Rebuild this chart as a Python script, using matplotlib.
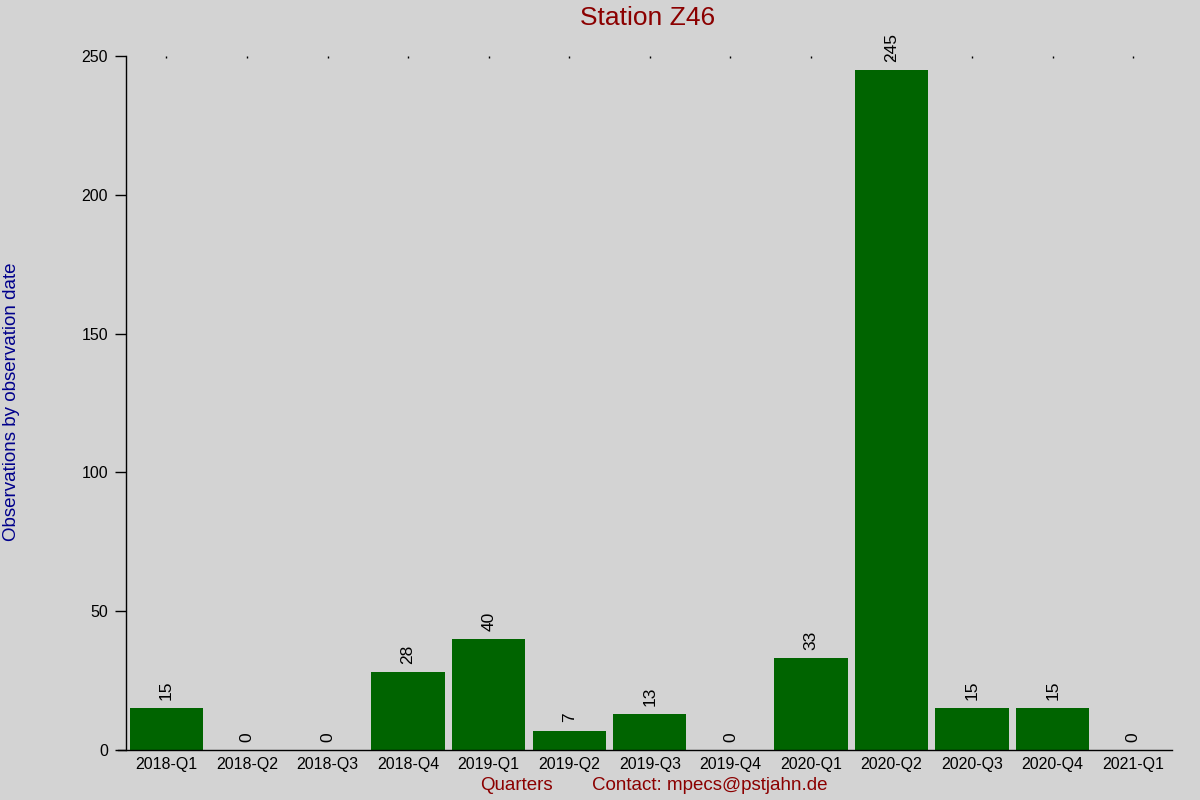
import matplotlib
matplotlib.use("Agg")
import matplotlib.pyplot as plt

categories = ["2018-Q1", "2018-Q2", "2018-Q3", "2018-Q4", "2019-Q1", "2019-Q2", "2019-Q3",
              "2019-Q4", "2020-Q1", "2020-Q2", "2020-Q3", "2020-Q4", "2021-Q1"]
values = [15, 0, 0, 28, 40, 7, 13, 0, 33, 245, 15, 15, 0]
yticks = [0, 50, 100, 150, 200, 250]

plt.rcParams['font.family'] = ['Liberation Sans', 'DejaVu Sans']
bg = '#d3d3d3'
fig = plt.figure(figsize=(12, 8), dpi=100, facecolor=bg)
ax = fig.add_axes([118/1200, 50/800, (1172-118)/1200, (750-56)/800], facecolor=bg)

x = list(range(len(categories)))
ax.bar(x, values, width=0.91, color='#006400', zorder=2)
for xi, v in zip(x, values):
    ax.annotate(str(v), (xi, v), xytext=(0, 6), textcoords='offset points',
                rotation=90, ha='center', va='bottom', fontsize=12.5, color='black')

ax.set_xlim(-0.6, len(categories) - 0.52)
ax.set_ylim(0, 250)
ax.set_yticks(yticks)
ax.set_xticks(x)
ax.set_xticklabels(categories)

for s in ['top', 'right']:
    ax.spines[s].set_visible(False)
ax.spines['left'].set_position(('data', -0.5))
ax.spines['left'].set_bounds(0, 250)
ax.spines['left'].set_linewidth(1.0)
ax.spines['bottom'].set_linewidth(1.0)

ax.tick_params(axis='y', direction='out', length=8, width=1, labelsize=11.5, pad=5)
ax.tick_params(axis='x', bottom=False, top=True, labelbottom=True, labeltop=False,
               length=1.2, width=1, direction='in', labelsize=11.5, pad=5)

fig.text(648/1200, 1 - 18/800, "Station Z46", ha='center', va='center', fontsize=19, color='#8b0000')
fig.text(12/1200, 1 - 402/800, "Observations by observation date", rotation=90,
         ha='center', va='center', fontsize=13.5, color='#00008b')
fig.text(516/1200, 1 - 786/800, "Quarters", ha='center', va='center', fontsize=13.5, color='#8b0000')
fig.text(710/1200, 1 - 786/800, "Contact: mpecs@pstjahn.de", ha='center', va='center',
         fontsize=13.5, color='#8b0000')

fig.savefig("out.png", dpi=100, facecolor=bg)
